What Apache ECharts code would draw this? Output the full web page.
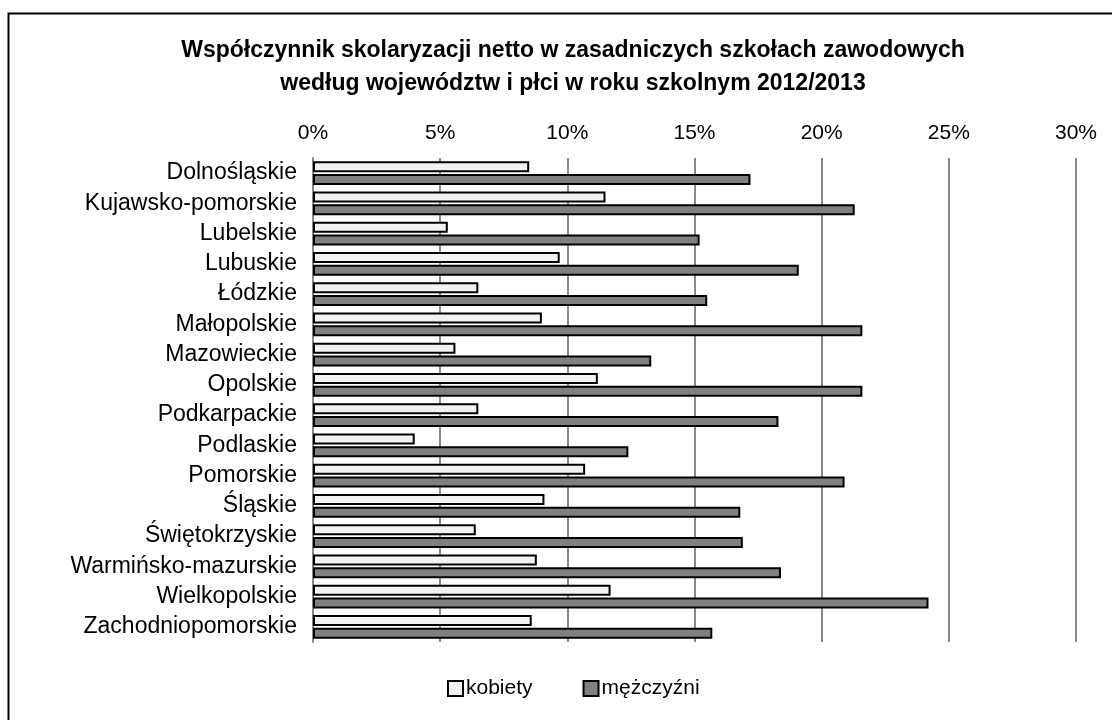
<!DOCTYPE html>
<html>
<head>
<meta charset="utf-8">
<script src="https://cdn.jsdelivr.net/npm/echarts@6/dist/echarts.min.js"></script>
<style>
  html, body { margin: 0; padding: 0; background: #fff; }
  #chart { width: 1112px; height: 720px; }
</style>
</head>
<body>
<div id="chart"></div>
<script>
  // województwa, od góry do dołu
  var regions = [
    'Dolnośląskie', 'Kujawsko-pomorskie', 'Lubelskie', 'Lubuskie', 'Łódzkie',
    'Małopolskie', 'Mazowieckie', 'Opolskie', 'Podkarpackie', 'Podlaskie',
    'Pomorskie', 'Śląskie', 'Świętokrzyskie', 'Warmińsko-mazurskie',
    'Wielkopolskie', 'Zachodniopomorskie'
  ];
  var women = [8.5, 11.5, 5.3, 9.7, 6.5, 9.0, 5.6, 11.2, 6.5, 4.0, 10.7, 9.1, 6.4, 8.8, 11.7, 8.6];
  var men = [17.2, 21.3, 15.2, 19.1, 15.5, 21.6, 13.3, 21.6, 18.3, 12.4, 20.9, 16.8, 16.9, 18.4, 24.2, 15.7];
  var xTicks = [0, 30, 5]; // min, max, interval

  var font = '"Liberation Sans", Arial, sans-serif';

  var myChart = echarts.init(document.getElementById('chart'));
  var option = {
    backgroundColor: '#fff',
    animation: false,
    title: {
      text: 'Współczynnik skolaryzacji netto w zasadniczych szkołach zawodowych\nwedług województw i płci w roku szkolnym 2012/2013',
      left: 568,
      top: 29,
      textAlign: 'center',
      textStyle: {
        fontFamily: font,
        fontSize: 23,
        fontWeight: 'bold',
        color: '#000',
        lineHeight: 33
      }
    },
    legend: {
      bottom: 16,
      left: 442,
      itemWidth: 15,
      itemHeight: 15,
      itemGap: 50,
      icon: 'rect',
      textStyle: { fontFamily: font, fontSize: 21, color: '#000', padding: [0, 0, 0, -2] },
      data: ['kobiety', 'mężczyźni']
    },
    grid: {
      left: 313,
      right: 36,
      top: 158,
      bottom: 78
    },
    xAxis: {
      type: 'value',
      position: 'top',
      min: xTicks[0],
      max: xTicks[1],
      interval: xTicks[2],
      axisLine: { show: false },
      axisTick: { show: false },
      axisLabel: {
        margin: 14,
        fontFamily: font,
        fontSize: 21,
        color: '#000',
        formatter: '{value}%'
      },
      splitLine: { lineStyle: { color: '#888', width: 2 } }
    },
    yAxis: {
      type: 'category',
      inverse: true,
      data: regions,
      axisLine: { lineStyle: { color: '#888', width: 2 } },
      axisTick: { length: 8, lineStyle: { color: '#888', width: 2 } },
      axisLabel: {
        margin: 16,
        fontFamily: font,
        fontSize: 23,
        color: '#000'
      }
    },
    series: [
      {
        name: 'kobiety',
        type: 'bar',
        data: women,
        barWidth: 11,
        barGap: '15%',
        itemStyle: { color: '#f2f2f2', borderColor: '#000', borderWidth: 2 }
      },
      {
        name: 'mężczyźni',
        type: 'bar',
        data: men,
        barWidth: 11,
        itemStyle: { color: '#808080', borderColor: '#000', borderWidth: 2 }
      }
    ],
    graphic: [
      {
        type: 'rect',
        shape: { x: 8.5, y: 13.5, width: 1120, height: 720 },
        style: { fill: 'none', stroke: '#000', lineWidth: 2 },
        silent: true
      }
    ]
  };
  myChart.setOption(option);

  window.addEventListener('resize', function () {
    myChart.resize();
  });
</script>
</body>
</html>
